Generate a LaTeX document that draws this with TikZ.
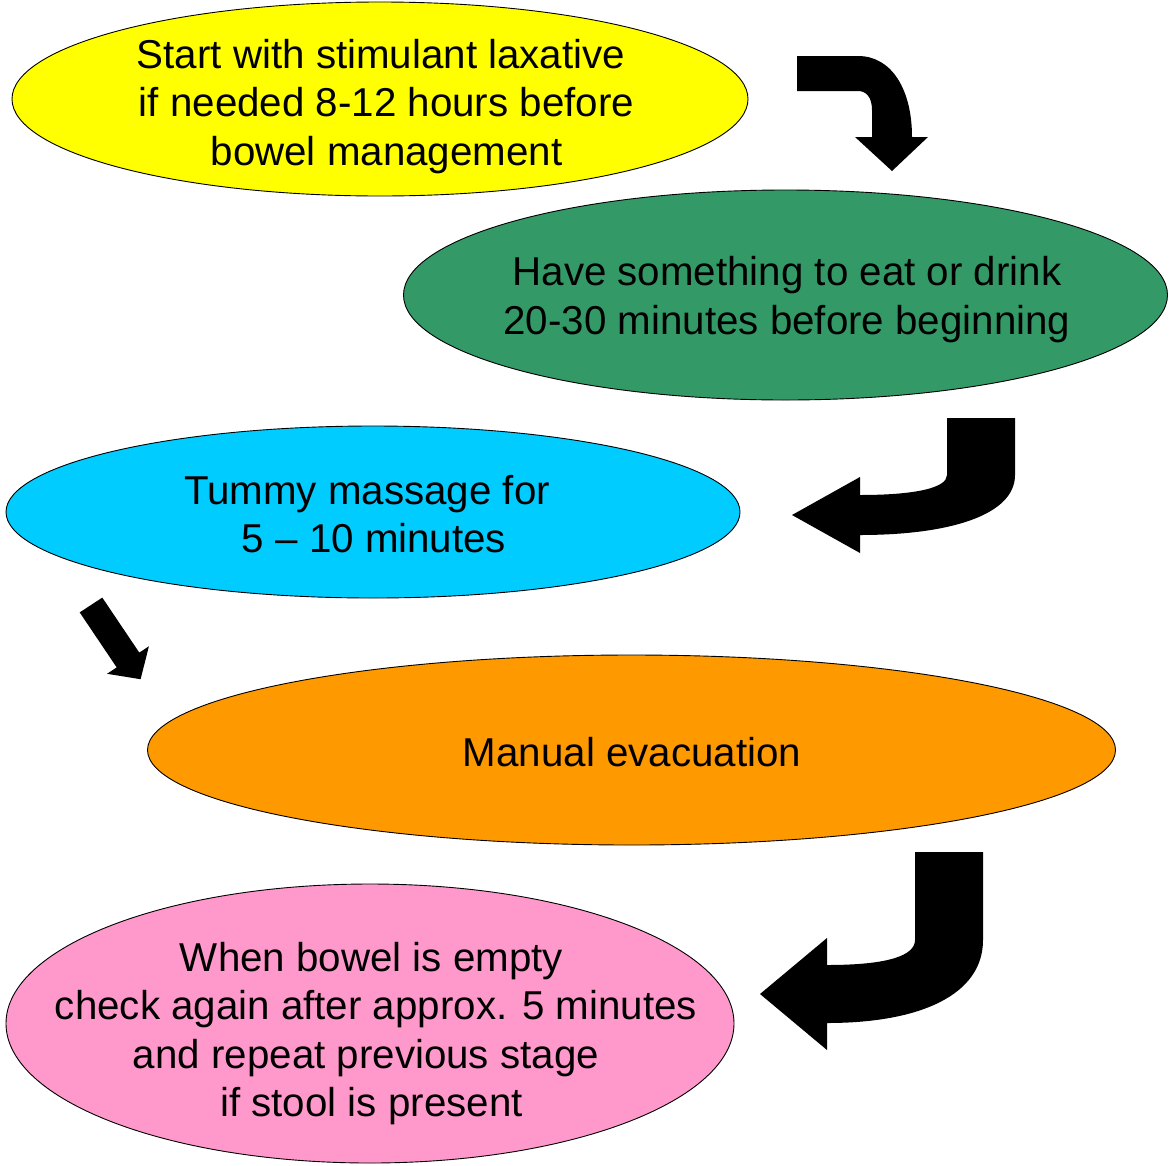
\documentclass[tikz,border=0pt]{standalone}
\usepackage{fontspec}
\setmainfont{Liberation Sans}
\usetikzlibrary{shapes.geometric}
\definecolor{cyel}{HTML}{FFFF00}
\definecolor{cgrn}{HTML}{339966}
\definecolor{ccyn}{HTML}{00CCFF}
\definecolor{corg}{HTML}{FF9900}
\definecolor{cpnk}{HTML}{FF99CC}
\newcommand{\padr}[1]{\rule{#1}{0pt}}
\begin{document}
\begin{tikzpicture}[x=1pt,y=-1pt,
  stage/.style={ellipse, draw=black, line width=0.9pt, inner sep=0pt},
  txt/.style={align=center, inner sep=0pt, font=\fontsize{40.3}{48.5}\selectfont},
  blockarrow/.style={fill=black, draw=none}]
\useasboundingbox (0,0) rectangle (1169,1165);
% stages
\node[stage, fill=cyel, minimum width=736, minimum height=194] (s1) at (380,99) {};
\node[stage, fill=cgrn, minimum width=764, minimum height=210] (s2) at (785.5,295) {};
\node[stage, fill=ccyn, minimum width=734, minimum height=172] (s3) at (373,512) {};
\node[stage, fill=corg, minimum width=968, minimum height=190] (s4) at (631.5,750) {};
\node[stage, fill=cpnk, minimum width=728, minimum height=279] (s5) at (370,1023.5) {};
% texts
\node[txt] (t1) at (386.5,106.5) {Start with stimulant laxative\padr{11pt}\\if needed 8-12 hours before\\bowel management};
\node[txt] (t2) at (787,299.5) {Have something to eat or drink\\20-30 minutes before beginning};
\node[txt] (t3) at (374,514) {Tummy massage for\padr{14pt}\\5 -- 10 minutes};
\node[txt] (t4) at (632,752) {Manual evacuation};
\node[txt] (t5) at (376,1033.5) {When bowel is empty\padr{9pt}\\check again after approx. 5 minutes\\and repeat previous stage\padr{20pt}\\if stool is present\padr{9pt}};
% block arrows
\fill[blockarrow] (797,56) -- (858,56) .. controls (892,56) and (912,90) .. (912,137)
  -- (928,137) -- (892,171) -- (855,137) -- (872,137) -- (872,110)
  .. controls (872,97) and (866,91) .. (858,91) -- (797,91) -- cycle;
\fill[blockarrow] (947,418) -- (1015,418) -- (1015,475)
  .. controls (1015,515) and (950,535) .. (860,535) -- (860,553) -- (792,515)
  -- (860,477) -- (860,495) .. controls (915,495) and (947,488) .. (947,475) -- cycle;
\fill[blockarrow] (79.7,612.4) -- (102.3,597.6) -- (139.3,652.6) -- (148.9,646.3)
  -- (140.6,679.2) -- (107.1,673.8) -- (116.7,667.4) -- cycle;
\fill[blockarrow] (915,852) -- (983,852) -- (983,940)
  .. controls (983,995) and (920,1023) .. (827,1023) -- (827,1050) -- (760,994)
  -- (827,938) -- (827,965) .. controls (890,965) and (915,955) .. (915,940) -- cycle;
\end{tikzpicture}
\end{document}
